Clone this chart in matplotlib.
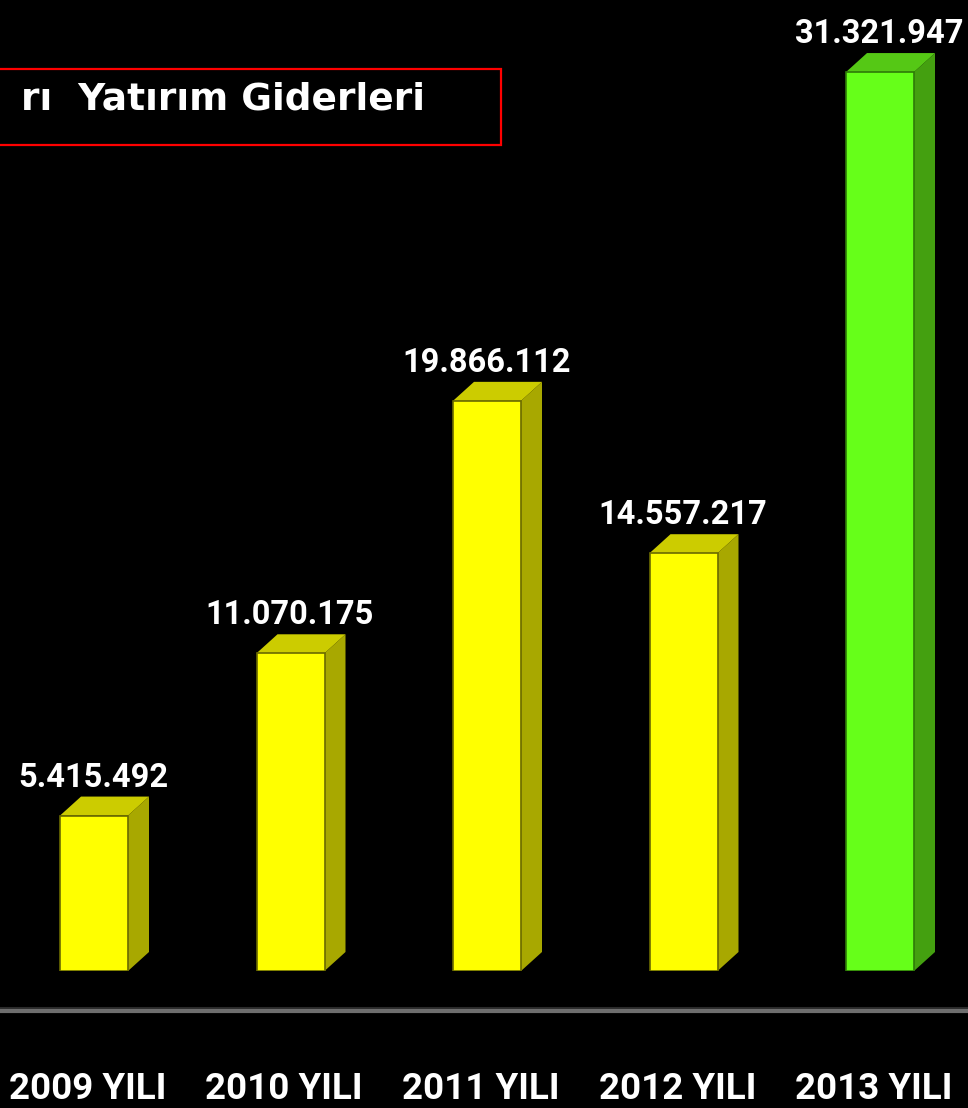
import numpy as np
import matplotlib
matplotlib.use('Agg')
from matplotlib import pyplot as plt
from matplotlib.patches import Polygon, Rectangle
from matplotlib.lines import Line2D

# data
years = ['2009 YILI', '2010 YILI', '2011 YILI', '2012 YILI', '2013 YILI']
values = [5415492, 11070175, 19866112, 14557217, 31321947]
labels = ['5.415.492', '11.070.175', '19.866.112', '14.557.217', '31.321.947']
title = 'rı  Yatırım Giderleri'

W, H = 968, 1108
base_px = 971          # pixel row of the bar bottoms
px_per_unit_x = 196.5  # pixels between bar centres
px_per_val = 28.7e-6   # pixels per value unit

yellow = ('#ffff00', '#a8a800', '#cccc00', '#6a6a00')
green = ('#66ff19', '#44a010', '#55c815', '#2e7a08')

narrow = ['Roboto', 'DejaVu Sans']


def draw_bar3d(ax, x, h, w, dx, dy, cols):
    front, side, top, edge = cols
    ax.add_patch(Polygon([(x + w / 2, 0), (x + w / 2 + dx, dy), (x + w / 2 + dx, h + dy),
                          (x + w / 2, h)], closed=True, fc=side, ec='none'))
    ax.add_patch(Polygon([(x - w / 2, h), (x + w / 2, h), (x + w / 2 + dx, h + dy),
                          (x - w / 2 + dx, h + dy)], closed=True, fc=top, ec='none'))
    ax.add_patch(Rectangle((x - w / 2, 0), w, h, fc=front, ec=edge, lw=1.2))


fig = plt.figure(figsize=(W / 100, H / 100), dpi=100)
fig.patch.set_facecolor('black')
ax = fig.add_axes([0, (H - base_px) / H, 1, base_px / H])
ax.set_facecolor('black')
ax.axis('off')

x0 = 94 / px_per_unit_x
ax.set_xlim(-x0, W / px_per_unit_x - x0)
ax.set_ylim(0, base_px / px_per_val)

bw = 68 / px_per_unit_x
dx = 21 / px_per_unit_x
dy = 19 / px_per_val

for i, (v, lab) in enumerate(zip(values, labels)):
    cols = green if i == len(values) - 1 else yellow
    draw_bar3d(ax, i, v, bw, dx, dy, cols)
    ax.text(i - 0.003, v + dy + 10 / px_per_val, lab, ha='center', va='baseline',
            color='white', fontsize=23.5, fontweight='bold', family=narrow)
    ax.text(i - 0.032, -128 / px_per_val, years[i], ha='center', va='baseline',
            color='white', fontsize=26.5, fontweight='bold', family=narrow, clip_on=False)

# separator line under the bars
fig.add_artist(Line2D([0, 1], [1 - 1008 / H, 1 - 1008 / H], color='#2a2a2a', lw=1.5))
fig.add_artist(Line2D([0, 1], [1 - 1011 / H, 1 - 1011 / H], color='#6e6e6e', lw=3))

# title box (cut at the left edge)
fig.add_artist(Rectangle((-0.05, 1 - 145 / H), 0.05 + 501 / W, 76 / H,
                         transform=fig.transFigure, fc='none', ec='#ff0000', lw=1.6))
fig.text(425 / W, 1 - 99 / H, title, ha='right', va='center', color='white',
         fontsize=27, fontweight='bold', family='DejaVu Sans')

plt.savefig('out.png', dpi=100, facecolor='black')
